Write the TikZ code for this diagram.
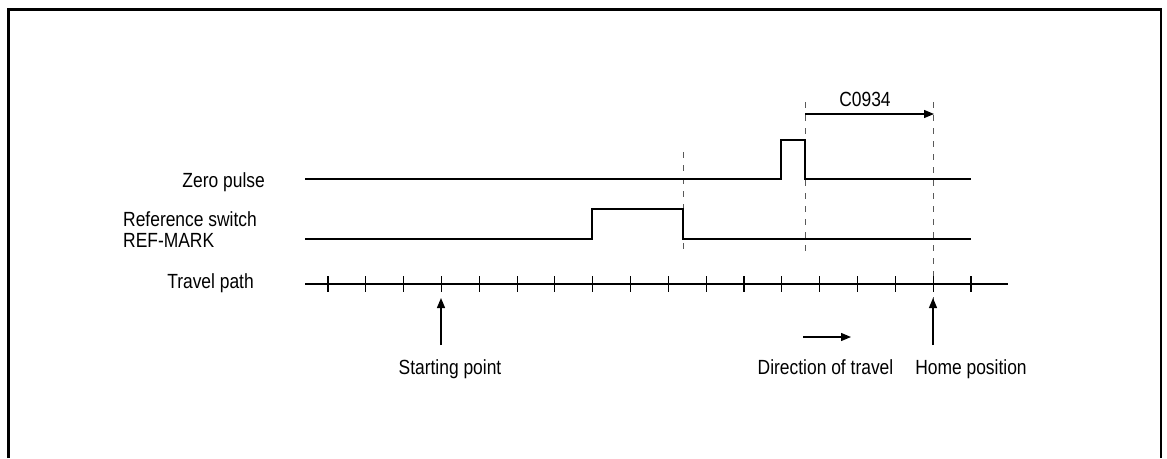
\documentclass[tikz,border=0pt]{standalone}
\usepackage{fontspec}
\setmainfont{Liberation Sans}[FakeStretch=0.85]
\usetikzlibrary{arrows.meta}
\begin{document}
\begin{tikzpicture}[x=1pt,y=-1pt,
  lbl/.style={font=\fontsize{20.5}{24}\selectfont, inner sep=0pt},
  sig/.style={line width=2.2pt, line join=miter},
  axisline/.style={line width=1.2pt},
  tickmark/.style={line width=1.1pt},
  guide/.style={line width=1pt, dash pattern=on 6pt off 7pt, draw=black!65},
  arr/.style={line width=1.3pt, -{Triangle[length=10pt,width=8pt]}}]
\useasboundingbox (0,0) rectangle (1167,458);
\draw[line width=2.6pt] (8.5,458) -- (8.5,9.5) -- (1161,9.5) -- (1161,458);
% guides
\draw[guide] (683,152) -- (683,253);
\draw[guide] (805,102) -- (805,253);
\draw[guide] (933,102) -- (933,300);
% signals
\coordinate (zp0) at (305,179);
\coordinate (zp1) at (971,179);
\draw[sig] (zp0) -- (781,179) -- (781,140) -- (805,140) -- (805,179) -- (zp1);
\coordinate (rs0) at (305,239);
\coordinate (rs1) at (971,239);
\draw[sig] (rs0) -- (592,239) -- (592,209) -- (683,209) -- (683,239) -- (rs1);
% axis
\coordinate (ax0) at (305,284);
\coordinate (ax1) at (1008,284);
\draw[axisline] (ax0) -- (ax1);
\foreach \i in {0,...,17} {
  \draw[tickmark] ({328+\i*37.82},276) -- ({328+\i*37.82},292);
}
% arrows
\coordinate (sp0) at (441,345); \coordinate (sp1) at (441,298);
\draw[arr] (sp0) -- (sp1);
\coordinate (hp0) at (933,345); \coordinate (hp1) at (933,298);
\draw[arr] (hp0) -- (hp1);
\coordinate (dt0) at (803,337); \coordinate (dt1) at (851,337);
\draw[arr] (dt0) -- (dt1);
\coordinate (c0) at (805,114); \coordinate (c1) at (934,114);
\draw[arr] (c0) -- (c1);
% labels
\node[lbl, anchor=base east] (zpl) at (265,187) {Zero pulse};
\node[lbl, anchor=base west] (rsl1) at (123,226.7) {Reference switch};
\node[lbl, anchor=base west] (rsl2) at (123,247.7) {REF-MARK};
\node[lbl, anchor=base east] (tpl) at (254,288) {Travel path};
\node[lbl, anchor=base] (spl) at (450,374) {Starting point};
\node[lbl, anchor=base] (dtl) at (825.5,374) {Direction of travel};
\node[lbl, anchor=base] (hpl) at (971,374) {Home position};
\node[lbl, anchor=base] (cl) at (865,106.7) {C0934};
\end{tikzpicture}
\end{document}
